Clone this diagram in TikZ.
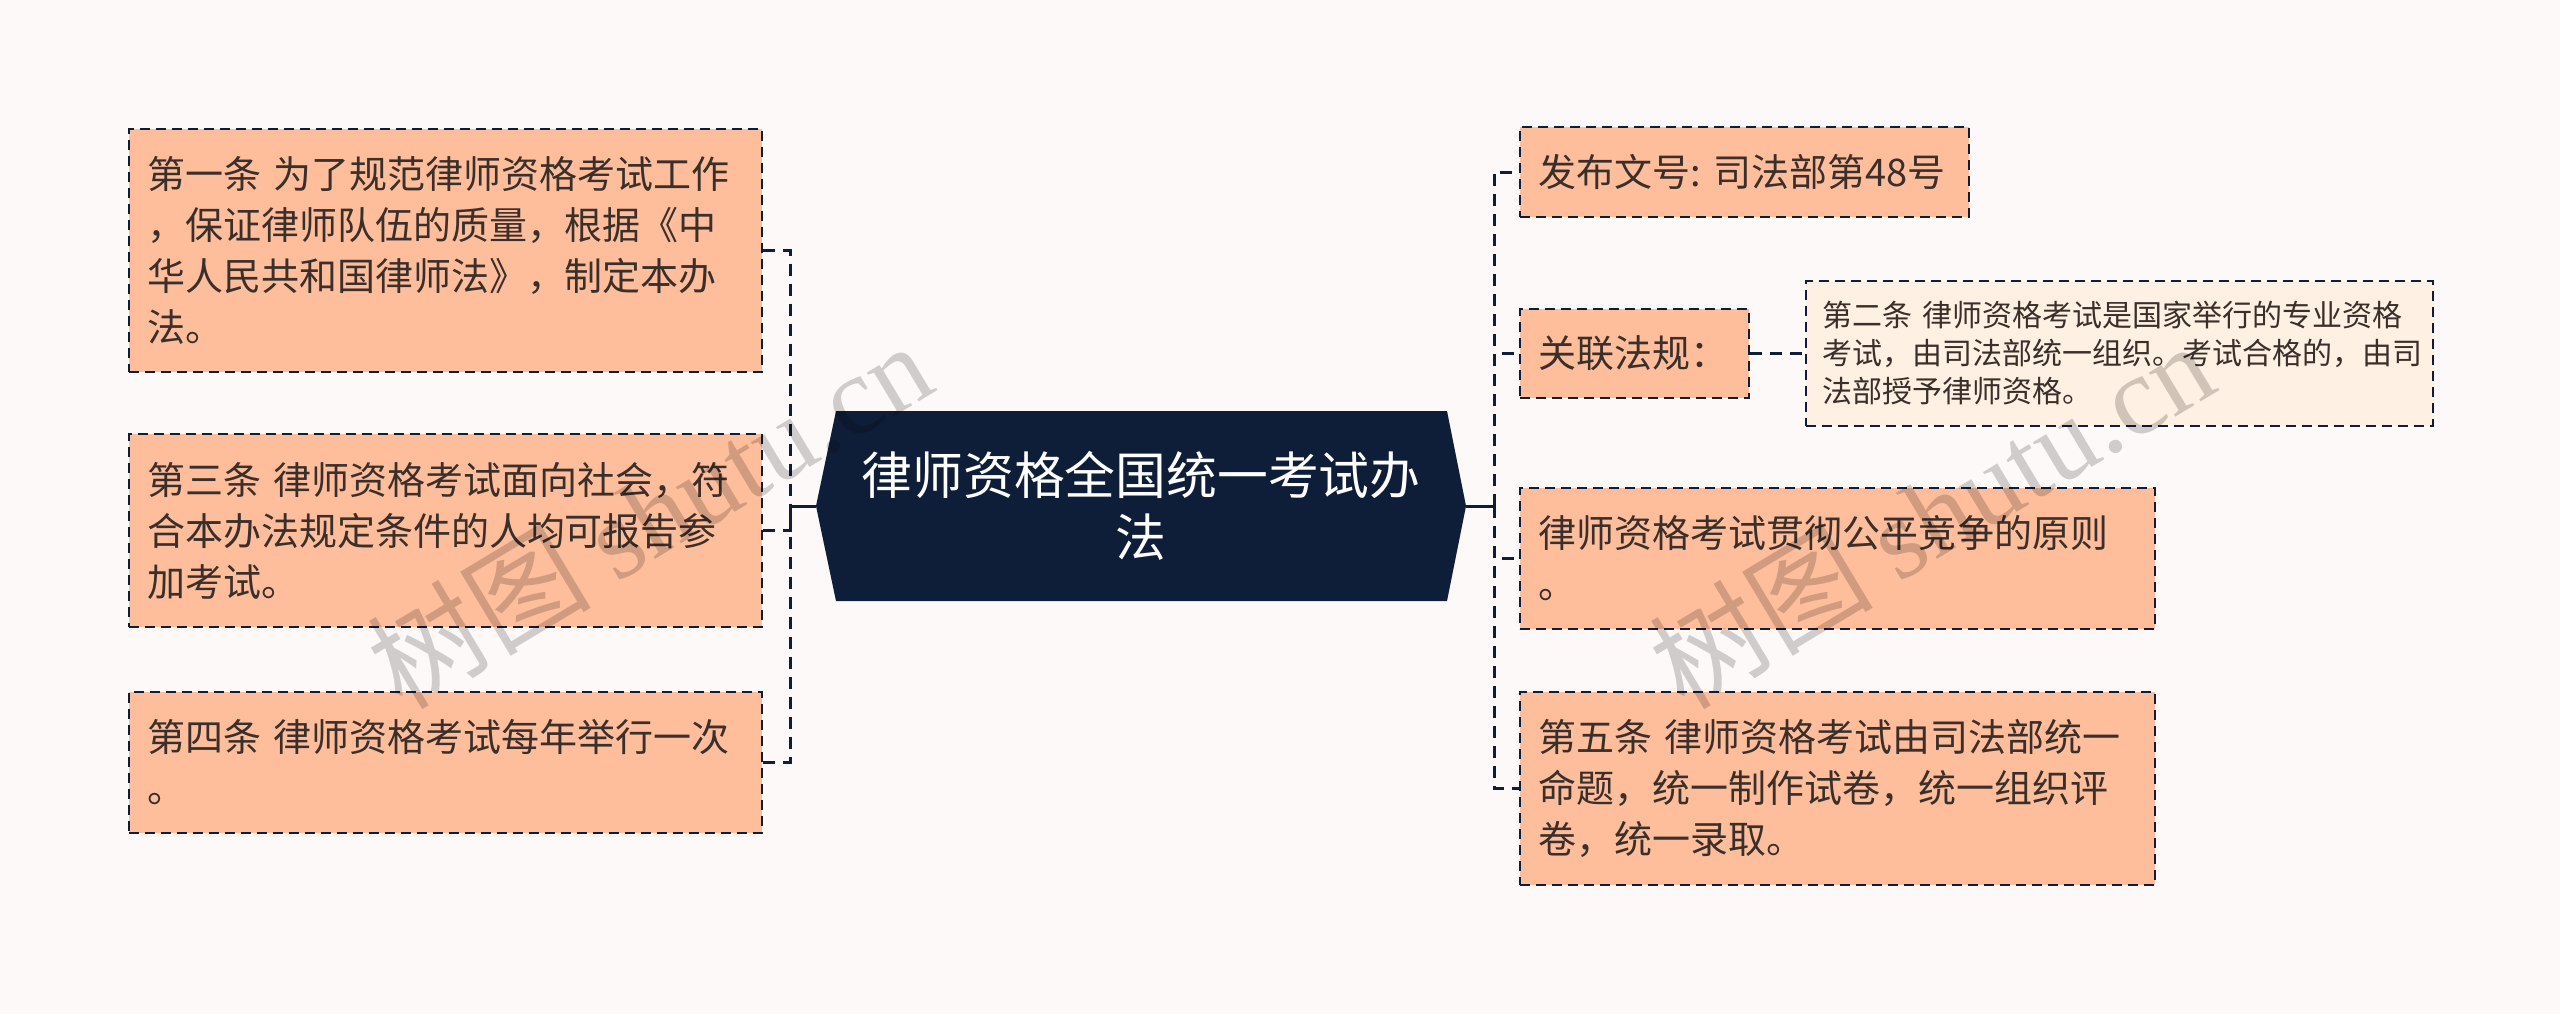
\documentclass[tikz,border=0pt]{standalone}
\usepackage{fontspec}
\setmainfont{Noto Sans CJK SC}
\newfontfamily\wmlatin{Liberation Serif}
\usetikzlibrary{calc}
\definecolor{bgc}{HTML}{FDF9F8}
\definecolor{navy}{HTML}{0F1E38}
\definecolor{peach}{HTML}{FEBE9C}
\definecolor{cream}{HTML}{FEF0E2}
\definecolor{txt}{HTML}{3A2F2A}
\tikzset{
  leaf/.style={rectangle, draw=navy, fill=peach, line width=1.2pt, dash pattern=on 5pt off 3pt,
    text=txt, align=left, inner xsep=9pt, inner ysep=0pt,
    font=\fontsize{19pt}{25.5pt}\selectfont},
  detail/.style={leaf, fill=cream, inner xsep=8pt, font=\fontsize{15pt}{19pt}\selectfont},
  link/.style={draw=navy, line width=1.5pt, dash pattern=on 6pt off 4pt},
  stem/.style={draw=navy, line width=1.5pt},
  wmark/.style={text=black, opacity=0.18, rotate=31, font=\fontsize{56pt}{56pt}\selectfont}
}
\begin{document}
\begin{tikzpicture}[x=0.5pt,y=-0.5pt]
\useasboundingbox (0,0) rectangle (2560,1014);
\fill[bgc] (0,0) rectangle (2560,1014);
% central topic
\fill[navy] (816,506) -- (836,411) -- (1447,411) -- (1466,506) -- (1447,601) -- (836,601) -- cycle;
\node[rectangle, minimum width=325pt, minimum height=95pt, inner sep=0pt, text=white, align=center,
  font=\fontsize{25.4pt}{31pt}\selectfont] (c) at (1141,506) {律师资格全国统一考试办\\法};
% left branches
\node[leaf, text width=298.5pt, minimum height=121.5pt] (b1) at (445.5,250.5)
  {第一条~为了规范律师资格考试工作\\，保证律师队伍的质量，根据《中\\华人民共和国律师法》，制定本办\\法。};
\node[leaf, text width=298.5pt, minimum height=96.5pt] (b3) at (445.5,530.5)
  {第三条~律师资格考试面向社会，符\\合本办法规定条件的人均可报告参\\加考试。};
\node[leaf, text width=298.5pt, minimum height=70.5pt] (b4) at (445.5,762.5)
  {第四条~律师资格考试每年举行一次\\。};
% right branches
\node[leaf, text width=206.5pt, minimum height=45pt] (r1) at (1744.5,172)
  {发布文号:~司法部第48号};
\node[leaf, text width=96.5pt, minimum height=44.5pt] (r2) at (1634.5,353.5)
  {关联法规：};
\node[detail, text width=297.5pt, minimum height=72.5pt] (d) at (2119.5,353.5)
  {第二条~律师资格考试是国家举行的专业资格\\考试，由司法部统一组织。考试合格的，由司\\法部授予律师资格。};
\node[leaf, text width=299.5pt, minimum height=70.5pt] (r3) at (1837.5,558.5)
  {律师资格考试贯彻公平竞争的原则\\。};
\node[leaf, text width=299.5pt, minimum height=96.5pt] (r4) at (1837.5,788.5)
  {第五条~律师资格考试由司法部统一\\命题，统一制作试卷，统一组织评\\卷，统一录取。};
% connectors
\coordinate (lj) at (790,506);
\coordinate (rj) at (1494,506);
\draw[link] (b1.east) -| (lj);
\draw[link] (b3.east) -| (lj);
\draw[link] (b4.east) -| (lj);
\draw[stem] (c.west) -- (lj);
\draw[stem] (c.east) -- (rj);
\draw[link] (rj) |- (r1.west);
\draw[link] (rj) |- (r2.west);
\draw[link] (rj) |- (r3.west);
\draw[link] (rj) |- (r4.west);
\draw[link] (r2.east) -- (d.west);
% watermarks
\node[wmark] (w1) at (649,514) {树图 {\wmlatin shutu.cn}};
\node[wmark] (w2) at (1931,514) {树图 {\wmlatin shutu.cn}};
\end{tikzpicture}
\end{document}
